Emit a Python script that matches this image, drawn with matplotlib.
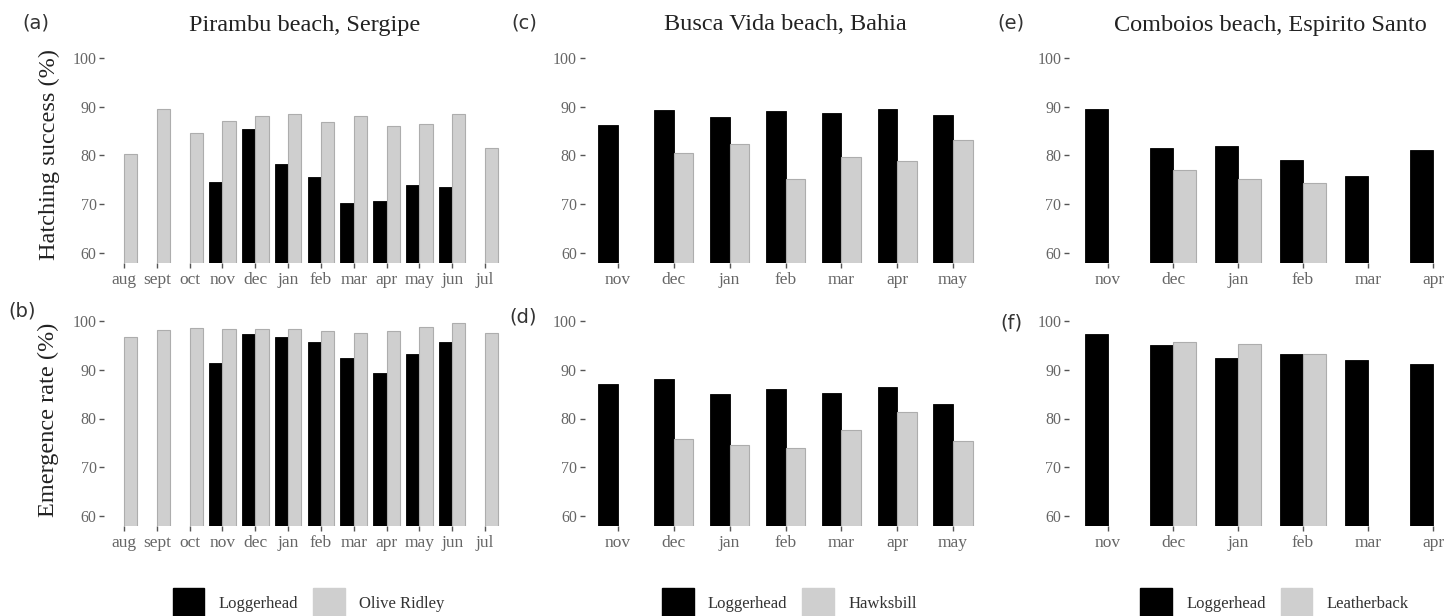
import numpy as np
import matplotlib
matplotlib.use("Agg")
import matplotlib.pyplot as plt
from matplotlib.patches import Patch

nan = np.nan

# ---------------- data ----------------
months_a = ['aug', 'sept', 'oct', 'nov', 'dec', 'jan', 'feb', 'mar', 'apr', 'may', 'jun', 'jul']
hatch_logger_a = [nan, nan, nan, 74.5, 85.4, 78.3, 75.6, 70.3, 70.7, 73.9, 73.5, nan]
hatch_olive_a = [80.4, 89.6, 84.7, 87.0, 88.0, 88.5, 86.9, 88.0, 86.1, 86.5, 88.4, 81.5]
emerg_logger_a = [nan, nan, nan, 91.4, 97.3, 96.6, 95.7, 92.3, 89.4, 93.2, 95.6, nan]
emerg_olive_a = [96.6, 98.1, 98.6, 98.4, 98.4, 98.4, 97.9, 97.6, 97.9, 98.8, 99.5, 97.5]

months_c = ['nov', 'dec', 'jan', 'feb', 'mar', 'apr', 'may']
hatch_logger_c = [86.2, 89.4, 87.8, 89.1, 88.7, 89.5, 88.2]
hatch_hawks_c = [nan, 80.6, 82.3, 75.2, 79.6, 78.8, 83.1]
emerg_logger_c = [87.0, 88.1, 85.1, 86.0, 85.3, 86.4, 82.9]
emerg_hawks_c = [nan, 75.9, 74.6, 73.9, 77.7, 81.4, 75.3]

months_e = ['nov', 'dec', 'jan', 'feb', 'mar', 'apr']
hatch_logger_e = [89.6, 81.5, 82.0, 79.1, 75.8, 81.1]
hatch_leather_e = [nan, 77.0, 75.2, 74.3, nan, nan]
emerg_logger_e = [97.3, 95.0, 92.3, 93.2, 91.9, 91.2]
emerg_leather_e = [nan, 95.7, 95.3, 93.3, nan, nan]

titles = ['Pirambu beach, Sergipe', 'Busca Vida beach, Bahia', 'Comboios beach, Espirito Santo']
species2 = ['Olive Ridley', 'Hawksbill', 'Leatherback']
panel_tags = [['(a)', '(b)'], ['(c)', '(d)'], ['(e)', '(f)']]
yticks = [60, 70, 80, 90, 100]

# ---------------- style ----------------
SERIF = ['Liberation Serif', 'DejaVu Serif']
plt.rcParams['font.family'] = SERIF
W, H = 1455, 616
BLACK = '#000000'
GREY = '#cfcfcf'
GREY_EDGE = '#adadad'
TXT = '#666666'

fig = plt.figure(figsize=(W / 100, H / 100), dpi=100)

# axes pixel extents (left, right) per column and (top, bottom) per row
cols = [(104.3, 504.7), (584.5, 986.5), (1069.0, 1472.0)]
rows = [(48.0, 263.0), (311.0, 526.0)]
dodge = [0.81, 0.70, 0.71]

data = [
    (months_a, [(hatch_logger_a, hatch_olive_a), (emerg_logger_a, emerg_olive_a)]),
    (months_c, [(hatch_logger_c, hatch_hawks_c), (emerg_logger_c, emerg_hawks_c)]),
    (months_e, [(hatch_logger_e, hatch_leather_e), (emerg_logger_e, emerg_leather_e)]),
]

tag_pos = {'(a)': (36, 23), '(b)': (22, 311), '(c)': (524, 23),
           '(d)': (523, 317), '(e)': (1011, 23), '(f)': (1011, 323)}


def add_axes(px_l, px_r, px_t, px_b):
    return fig.add_axes([px_l / W, 1 - px_b / H, (px_r - px_l) / W, (px_b - px_t) / H])


for ci, (months, rowdata) in enumerate(data):
    for ri, (s1, s2) in enumerate(rowdata):
        l, r = cols[ci]
        t, b = rows[ri]
        ax = add_axes(l, r, t, b)
        x = np.arange(len(months))
        tw = dodge[ci]
        s1 = np.array(s1, dtype=float)
        s2 = np.array(s2, dtype=float)
        m1 = ~np.isnan(s1)
        m2 = ~np.isnan(s2)
        ax.bar(x[m1] - tw / 4, s1[m1], width=tw / 2, color=BLACK, edgecolor=BLACK,
               linewidth=0.6)
        ax.bar(x[m2] + tw / 4, s2[m2], width=tw / 2, color=GREY, edgecolor=GREY_EDGE,
               linewidth=0.8)
        ax.set_xlim(-0.6, len(months) - 1 + 0.6)
        ax.set_ylim(58, 102)
        ax.set_yticks(yticks)
        ax.set_yticklabels([str(v) for v in yticks])
        ax.set_xticks(x)
        ax.set_xticklabels(months)
        for sp in ax.spines.values():
            sp.set_visible(False)
        ax.tick_params(axis='both', colors='#555555', labelcolor=TXT, length=3.5,
                       width=1.0, labelsize=11.5, pad=2)
        ax.tick_params(axis='x', labelsize=12.5, pad=3)
        ax.set_facecolor('none')
        tg = panel_tags[ci][ri]
        tx, ty = tag_pos[tg]
        fig.text(tx / W, 1 - ty / H, tg, ha='center', va='center', fontsize=14,
                 family=['DejaVu Sans'], color='#333333')
    # title
    l, r = cols[ci]
    fig.text(((l + r) / 2) / W, 1 - 25 / H, titles[ci], ha='center', va='center',
             fontsize=17.5, color='#222222')
    # legend
    handles = [Patch(facecolor=BLACK, edgecolor=BLACK),
               Patch(facecolor=GREY, edgecolor=GREY)]
    cx = (l + r) / 2 + 4
    fig.legend(handles, ['Loggerhead', species2[ci]], loc='center',
               bbox_to_anchor=(cx / W, 1 - 603 / H), ncol=2, frameon=False,
               fontsize=12, handlelength=1.9, handleheight=2.4, handletextpad=0.85,
               columnspacing=0.9, borderpad=0, labelcolor='#333333')

fig.text(49 / W, 1 - 155 / H, 'Hatching success (%)', rotation=90, ha='center',
         va='center', fontsize=17.5, color='#222222')
fig.text(48 / W, 1 - 420 / H, 'Emergence rate (%)', rotation=90, ha='center',
         va='center', fontsize=17.5, color='#222222')

fig.savefig('out.png', dpi=100, facecolor='white')
